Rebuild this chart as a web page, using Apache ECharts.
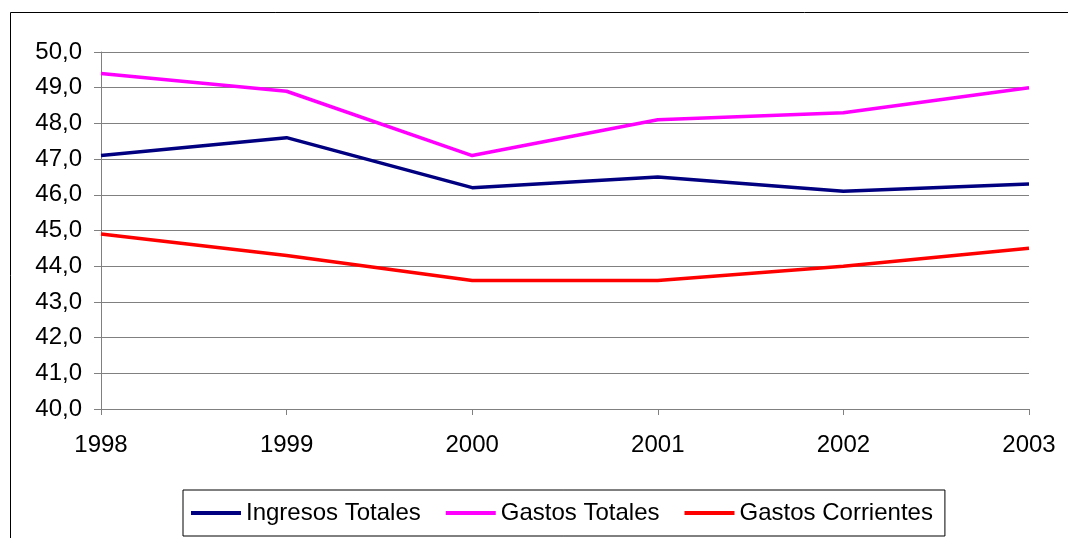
<!DOCTYPE html>
<html>
<head>
<meta charset="utf-8">
<script src="https://cdn.jsdelivr.net/npm/echarts@6/dist/echarts.min.js"></script>
<style>
  html, body { margin: 0; padding: 0; background: #fff; }
  #main { width: 1068px; height: 538px; }
</style>
</head>
<body>
<div id="main"></div>
<script>
  var years = ['1998', '1999', '2000', '2001', '2002', '2003'];
  var ingresosTotales = [47.1, 47.6, 46.2, 46.5, 46.1, 46.3];
  var gastosTotales = [49.4, 48.9, 47.1, 48.1, 48.3, 49.0];
  var gastosCorrientes = [44.9, 44.3, 43.6, 43.6, 44.0, 44.5];

  var myChart = echarts.init(document.getElementById('main'));
  var font = 'Liberation Sans, Arial, sans-serif';

  function mkSeries(name, data, color) {
    return {
      name: name,
      type: 'line',
      data: data,
      symbol: 'none',
      lineStyle: { color: color, width: 3.5 },
      itemStyle: { color: color },
      silent: true
    };
  }

  var option = {
    backgroundColor: '#ffffff',
    animation: false,
    graphic: [{
      type: 'rect',
      shape: { x: 10.5, y: 12.5, width: 1100, height: 600 },
      style: { fill: 'none', stroke: '#000', lineWidth: 1 },
      z: -1
    }],
    grid: { left: 101, right: 39, top: 52, bottom: 129 },
    legend: {
      data: ['Ingresos Totales', 'Gastos Totales', 'Gastos Corrientes'],
      icon: 'rect',
      left: 183,
      top: 490,
      padding: [11, 12, 11, 8],
      itemGap: 25,
      itemWidth: 50,
      itemHeight: 4,
      borderColor: '#000',
      borderWidth: 1,
      textStyle: { fontFamily: font, fontSize: 24, color: '#000' }
    },
    xAxis: {
      type: 'category',
      data: years,
      boundaryGap: false,
      axisLine: { lineStyle: { color: '#808080', width: 1 } },
      axisTick: { show: true, length: 6, lineStyle: { color: '#808080' } },
      axisLabel: { fontFamily: font, fontSize: 24, color: '#000', margin: 24 },
      splitLine: { show: false }
    },
    yAxis: {
      type: 'value',
      min: 40,
      max: 50,
      interval: 1,
      axisLine: { show: true, lineStyle: { color: '#808080', width: 1 } },
      axisTick: { show: true, length: 7, lineStyle: { color: '#808080' } },
      axisLabel: {
        fontFamily: font, fontSize: 24, color: '#000', margin: 19,
        formatter: function (v) { return v.toFixed(1).replace('.', ','); }
      },
      splitLine: { show: true, lineStyle: { color: '#808080', width: 1 } }
    },
    series: [
      mkSeries('Ingresos Totales', ingresosTotales, '#000080'),
      mkSeries('Gastos Totales', gastosTotales, '#ff00ff'),
      mkSeries('Gastos Corrientes', gastosCorrientes, '#ff0000')
    ]
  };

  myChart.setOption(option);
</script>
</body>
</html>
